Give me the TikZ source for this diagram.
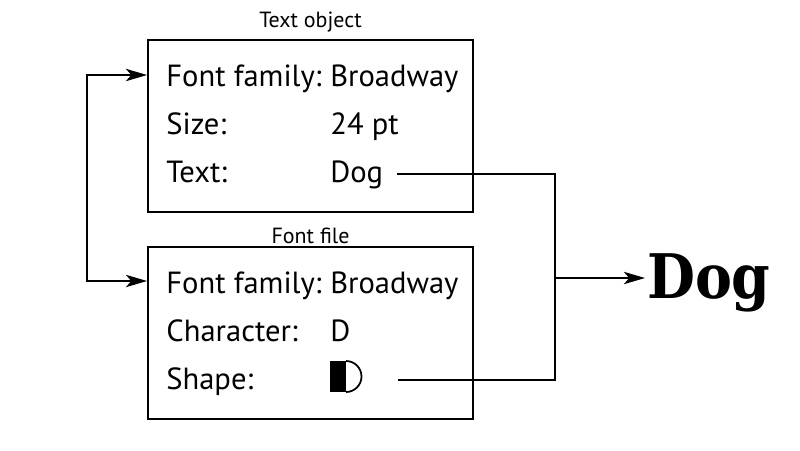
\documentclass[tikz,border=0pt]{standalone}
\usepackage{fontspec}
\setmainfont{PT Sans}
\newfontfamily\displayfont{DejaVu Serif Condensed}
\usetikzlibrary{arrows.meta,positioning}

\tikzset{
  objbox/.style={draw,line width=1.1pt,minimum width=6.5cm,minimum height=3.44cm,inner sep=0pt},
  boxtitle/.style={inner sep=0pt,font=\fontsize{12.5}{14}\selectfont},
  field/.style={anchor=base west,inner sep=0pt,font=\fontsize{17.4}{21}\selectfont},
  conn/.style={line width=1.1pt},
  tip/.style={-{Stealth[length=12pt,width=7pt,inset=3pt]}}
}

\begin{document}
\begin{tikzpicture}[x=0.02cm,y=-0.02cm]
  \useasboundingbox (0,0) rectangle (800,450);

  % ---- Text object -------------------------------------------
  \node[objbox] (textbox) at (310.5,126) {};
  \node[boxtitle] (texttitle) at (310.5,22) {Text object};
  \node[field] (tfamkey) at (166,86)  {Font family:};
  \node[field] (tfamval) at (330,86)  {Broadway};
  \node[field] (tsizekey) at (166,134) {Size:};
  \node[field] (tsizeval) at (330,134) {24 pt};
  \node[field] (ttextkey) at (166,182) {Text:};
  \node[field] (ttextval) at (330,182) {Dog};

  % ---- Font file ---------------------------------------------
  \node[objbox] (fontbox) at (310.5,333) {};
  \node[boxtitle] (fonttitle) at (310.5,236) {Font file};
  \node[field] (ffamkey) at (166,293) {Font family:};
  \node[field] (ffamval) at (330,293) {Broadway};
  \node[field] (fcharkey) at (166,341) {Character:};
  \node[field] (fcharval) at (330,341) {D};
  \node[field] (fshapekey) at (166,389) {Shape:};

  % glyph outline of the D
  \fill (330,361) rectangle (346,392);
  \draw[line width=1pt] (346,361) arc[start angle=-90,end angle=90,radius=15.5];

  % ---- Rendered result ---------------------------------------
  \node[anchor=base west,inner sep=1pt,font=\displayfont\bfseries\fontsize{35}{40}\selectfont]
    (dogout) at (645,298) {Dog};

  % ---- Connectors --------------------------------------------
  \coordinate (forktop) at (87,75);
  \coordinate (forkbot) at (87,281);
  \coordinate (shapeout) at (398,380);
  \coordinate (join) at (555,278);

  \draw[conn,{Stealth[length=12pt,width=7pt,inset=3pt]}-{Stealth[length=12pt,width=7pt,inset=3pt]}]
    (textbox.west |- forktop) -- (forktop) -- (forkbot) -- (fontbox.west |- forkbot);

  \draw[conn] ([xshift=0.26cm]ttextval.east) -| (join);
  \draw[conn] (shapeout) -| (join);
  \draw[conn,tip] (join) -- (dogout.west |- join);

\end{tikzpicture}
\end{document}
